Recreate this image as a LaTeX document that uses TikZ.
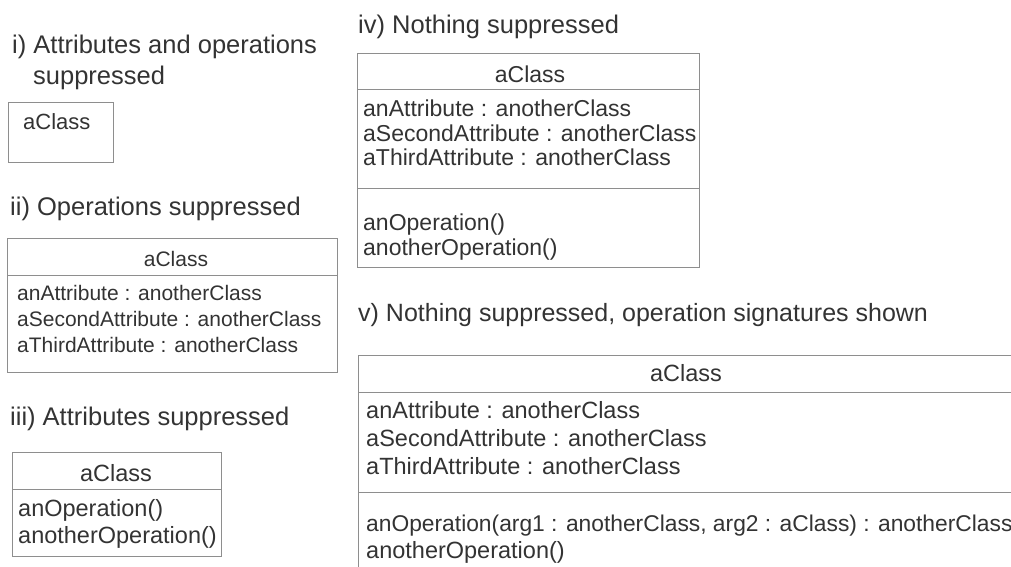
\documentclass[tikz,border=0pt]{standalone}
\usepackage{fontspec}
\setmainfont{Liberation Sans}
\definecolor{ink}{HTML}{333333}
\definecolor{rule}{HTML}{8E8E8E}
\begin{document}
\begin{tikzpicture}[x=1pt,y=-1pt,
  pts/.style={font=\fontsize{#1}{#1}\selectfont},
  txt/.style={inner sep=0pt, text=ink, text height=0.72em, text depth=0.2em, yshift=-6pt},
  heading/.style={txt, anchor=west, pts=25.5},
  member/.style={txt, anchor=west},
  cname/.style={txt, anchor=center},
  frame/.style={draw=rule, line width=0.9pt}]
\useasboundingbox (0,0) rectangle (1011,566);

% i) attributes and operations suppressed
\node[heading] (t1a) at (12,45) {i) Attributes and operations};
\node[heading] (t1b) at (33,76) {suppressed};
\draw[frame] (8,102) rectangle (113,162);
\node[member, pts=22] (c1) at (23,121) {aClass};

% ii) operations suppressed
\node[heading] (t2) at (10,207) {ii) Operations suppressed};
\draw[frame] (7,238) rectangle (337,372);
\draw[frame] (7,275) -- (337,275);
\node[cname, pts=21] (c2) at (176,258) {aClass};
\node[member, pts=21] (a2a) at (17,292) {anAttribute : anotherClass};
\node[member, pts=21] (a2b) at (17,318) {aSecondAttribute : anotherClass};
\node[member, pts=21] (a2c) at (17,344) {aThirdAttribute : anotherClass};

% iii) attributes suppressed
\node[heading] (t3) at (10,417) {iii) Attributes suppressed};
\draw[frame] (12,452) rectangle (221,556);
\draw[frame] (12,489) -- (221,489);
\node[cname, pts=23.5] (c3) at (116,473) {aClass};
\node[member, pts=23.5] (o3a) at (18,508) {anOperation()};
\node[member, pts=23.5] (o3b) at (18,535) {anotherOperation()};

% iv) nothing suppressed
\node[heading] (t4) at (358,25) {iv) Nothing suppressed};
\draw[frame] (357,53) rectangle (699,267);
\draw[frame] (357,89) -- (699,89);
\draw[frame] (357,188) -- (699,188);
\node[cname, pts=23] (c4) at (530,74) {aClass};
\node[member, pts=23] (a4a) at (363,108) {anAttribute : anotherClass};
\node[member, pts=23] (a4b) at (363,133) {aSecondAttribute : anotherClass};
\node[member, pts=23] (a4c) at (363,157) {aThirdAttribute : anotherClass};
\node[member, pts=23] (o4a) at (363,222) {anOperation()};
\node[member, pts=23] (o4b) at (363,247) {anotherOperation()};

% v) nothing suppressed, operation signatures shown
\node[heading, pts=25] (t5) at (358,313) {v) Nothing suppressed, operation signatures shown};
\draw[frame] (1030,355) -- (358,355) -- (358,590);
\draw[frame] (358,392) -- (1030,392);
\draw[frame] (358,492) -- (1030,492);
\node[cname, pts=23.5] (c5) at (686,373) {aClass};
\node[member, pts=23.5] (a5a) at (366,410) {anAttribute : anotherClass};
\node[member, pts=23.5] (a5b) at (366,438) {aSecondAttribute : anotherClass};
\node[member, pts=23.5] (a5c) at (366,466) {aThirdAttribute : anotherClass};
\node[member, pts=22.8] (o5a) at (366,523) {anOperation(arg1 : anotherClass, arg2 : aClass) : anotherClass};
\node[member, pts=23.5] (o5b) at (366,550) {anotherOperation()};
\end{tikzpicture}
\end{document}
